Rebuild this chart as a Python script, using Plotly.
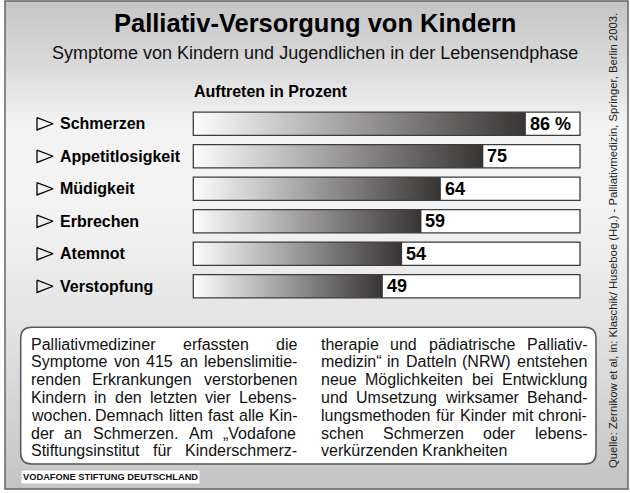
import plotly.graph_objects as go

W, H = 630, 493

# ---------------- data ----------------
categories = ["Schmerzen", "Appetitlosigkeit", "Müdigkeit", "Erbrechen", "Atemnot", "Verstopfung"]
values = [86, 75, 64, 59, 54, 49]
value_labels = ["86 %", "75", "64", "59", "54", "49"]
axis_max = 100

title = "Palliativ-Versorgung von Kindern"
subtitle = "Symptome von Kindern und Jugendlichen in der Lebensendphase"
unit_label = "Auftreten in Prozent"
source = "Quelle: Zernikow et al, in: Klaschik/ Huseboe (Hg.) - Palliativmedizin, Springer, Berlin 2003."
logo = "VODAFONE STIFTUNG DEUTSCHLAND"

left_col = [
    "Palliativmediziner erfassten die",
    "Symptome von 415 an lebenslimitie-",
    "renden Erkrankungen verstorbenen",
    "Kindern in den letzten vier Lebens-",
    "wochen. Demnach litten fast alle Kin-",
    "der an Schmerzen. Am „Vodafone",
    "Stiftungsinstitut für Kinderschmerz-",
]
right_col = [
    "therapie und pädiatrische Palliativ-",
    "medizin“ in Datteln (NRW) entstehen",
    "neue Möglichkeiten bei Entwicklung",
    "und Umsetzung wirksamer Behand-",
    "lungsmethoden für Kinder mit chroni-",
    "schen Schmerzen oder lebens-",
    "verkürzenden Krankheiten",
]

FONT = "Liberation Sans, Arial, Helvetica, sans-serif"


def px(x):
    return x / W


def py(y):
    return 1 - y / H


fig = go.Figure()
idx = list(range(len(categories)))

# ---- white bar frames ----
fig.add_trace(go.Bar(y=idx, x=[axis_max] * len(idx), orientation="h", width=0.71,
                     marker=dict(color="white", line=dict(width=0)), hoverinfo="skip",
                     showlegend=False))

# ---- gradient bars built from segments ----
N = 90
c0 = (253, 253, 253)
c1 = (56, 52, 52)
sy, sx, sb, sc = [], [], [], []
for i, v in enumerate(values):
    step = v / N
    for k in range(N):
        b = k * step
        w = min(step * 1.8, v - b)
        t = (k + 0.5) / N
        col = tuple(int(round(c0[j] + (c1[j] - c0[j]) * t)) for j in range(3))
        sy.append(i)
        sx.append(w)
        sb.append(b)
        sc.append("rgb(%d,%d,%d)" % col)
fig.add_trace(go.Bar(y=sy, x=sx, base=sb, orientation="h", width=0.71,
                     marker=dict(color=sc, line=dict(width=0)), hoverinfo="skip",
                     showlegend=False))

# ---- outline of bar frames ----
fig.add_trace(go.Bar(y=idx, x=[axis_max] * len(idx), orientation="h", width=0.71,
                     marker=dict(color="rgba(0,0,0,0)", line=dict(width=1.3, color="#3c3c3c")),
                     hoverinfo="skip", showlegend=False))

# ---- triangle bullets (on full-width helper axis) ----
tx, ty = [], []
for i in idx:
    tx += [37.0, 53.0, 37.0, 37.0, None]
    ty += [i - 0.19, i, i + 0.19, i - 0.19, None]
fig.add_trace(go.Scatter(x=tx, y=ty, xaxis="x2", yaxis="y", mode="lines",
                         line=dict(color="black", width=1.3), hoverinfo="skip",
                         showlegend=False))

annotations = []
# category labels
for i, c in enumerate(categories):
    annotations.append(dict(x=px(60), y=i, xref="paper", yref="y", xanchor="left",
                            yanchor="middle", text="<b>%s</b>" % c, showarrow=False,
                            font=dict(family=FONT, size=16, color="black"),
                            borderpad=0, borderwidth=0))
# value labels
for i, (v, lab) in enumerate(zip(values, value_labels)):
    annotations.append(dict(x=v, y=i, xref="x", yref="y", xanchor="left", yanchor="middle",
                            xshift=4, text="<b>%s</b>" % lab, showarrow=False,
                            font=dict(family=FONT, size=18, color="black"),
                            borderpad=0, borderwidth=0))

# titles
annotations.append(dict(x=px(315), y=py(23), xref="paper", yref="paper", xanchor="center",
                        yanchor="middle", text="<b>%s</b>" % title, showarrow=False,
                        font=dict(family=FONT, size=25.5, color="black")))
annotations.append(dict(x=px(315), y=py(53), xref="paper", yref="paper", xanchor="center",
                        yanchor="middle", text=subtitle, showarrow=False,
                        font=dict(family=FONT, size=18, color="#111")))
annotations.append(dict(x=px(194), y=py(92), xref="paper", yref="paper", xanchor="left",
                        yanchor="middle", text="<b>%s</b>" % unit_label, showarrow=False,
                        font=dict(family=FONT, size=16, color="black"),
                        borderpad=0, borderwidth=0))
# source (rotated)
annotations.append(dict(x=px(613), y=py(241), xref="paper", yref="paper", xanchor="center",
                        yanchor="middle", text=source, textangle=-90, showarrow=False,
                        font=dict(family=FONT, size=11.3, color="#222")))
# logo
annotations.append(dict(x=px(20.5), y=py(476.5), xref="paper", yref="paper", xanchor="left",
                        yanchor="middle", text="<b>%s</b>" % logo, showarrow=False,
                        bgcolor="white", borderpad=1,
                        font=dict(family=FONT, size=9.3, color="#111")))

# ---- justified paragraph text ----
AW = {" ": 278, ".": 278, ",": 278, "-": 333, "(": 333, ")": 333, ":": 278, "/": 278,
      "„": 333, "“": 333, "%": 889}
for ch in "0123456789":
    AW[ch] = 556
upper = dict(A=667, B=667, C=722, D=722, E=667, F=611, G=778, H=722, I=278, J=500, K=667,
             L=556, M=833, N=722, O=778, P=667, Q=778, R=722, S=667, T=611, U=722, V=667,
             W=944, X=667, Y=667, Z=611)
lower = dict(a=556, b=556, c=500, d=556, e=556, f=278, g=556, h=556, i=222, j=222, k=500,
             l=222, m=833, n=556, o=556, p=556, q=556, r=333, s=500, t=278, u=556, v=500,
             w=722, x=500, y=500, z=500)
AW.update(upper)
AW.update(lower)
AW.update({"ä": 556, "ö": 556, "ü": 556, "Ö": 778, "Ü": 722, "Ä": 667, "ß": 611})

TS = 16


def tw(s):
    return sum(AW.get(ch, 556) for ch in s) * TS / 1000.0


def add_column(lines, xl, xr, last_left):
    colw = xr - xl
    for k, line in enumerate(lines):
        yc = 344 + 17.8 * k
        words = line.split(" ")
        ws = [tw(w) for w in words]
        justify = not (last_left and k == len(lines) - 1) and len(words) > 1
        gap = (colw - sum(ws)) / (len(words) - 1) if justify else tw(" ")
        x = xl
        for w, wd in zip(words, ws):
            annotations.append(dict(x=px(x), y=py(yc), xref="paper", yref="paper",
                                    xanchor="left", yanchor="middle", text=w,
                                    showarrow=False, borderpad=0, borderwidth=0,
                                    font=dict(family=FONT, size=TS, color="#111")))
            x += wd + gap


add_column(left_col, 30.7, 297.3, False)
add_column(right_col, 320.7, 587.3, True)

# ---- background shapes ----
shapes = []
stops = [(0, 196), (60, 216), (125, 243), (210, 243), (330, 226), (489, 196)]
NB = 70
for b in range(NB):
    y0 = 1 + (489 - 1) * b / NB
    y1 = 1 + (489 - 1) * (b + 1) / NB
    ym = (y0 + y1) / 2
    for (a, ga), (bb, gb) in zip(stops[:-1], stops[1:]):
        if a <= ym <= bb:
            g = ga + (gb - ga) * (ym - a) / (bb - a)
            break
    g = int(round(g))
    shapes.append(dict(type="rect", xref="paper", yref="paper", x0=px(5), x1=px(628),
                       y0=py(y0 - 0.3), y1=py(y1 + 0.3), layer="below",
                       fillcolor="rgb(%d,%d,%d)" % (g, g, g), line=dict(width=0)))
# outer frame
shapes.append(dict(type="rect", xref="paper", yref="paper", x0=px(5), x1=px(628),
                   y0=py(1), y1=py(489), layer="below", fillcolor="rgba(0,0,0,0)",
                   line=dict(color="#666666", width=1.5)))
# rounded text box
bx0, bx1, by0, by1, r = 20.7, 596, 327.3, 464, 11


def P(x, y):
    return "%.5f,%.5f" % (px(x), py(y))


path = ("M " + P(bx0 + r, by0) + " L " + P(bx1 - r, by0) + " Q " + P(bx1, by0) + " " + P(bx1, by0 + r) +
        " L " + P(bx1, by1 - r) + " Q " + P(bx1, by1) + " " + P(bx1 - r, by1) +
        " L " + P(bx0 + r, by1) + " Q " + P(bx0, by1) + " " + P(bx0, by1 - r) +
        " L " + P(bx0, by0 + r) + " Q " + P(bx0, by0) + " " + P(bx0 + r, by0) + " Z")
shapes.append(dict(type="path", xref="paper", yref="paper", path=path, layer="below",
                   fillcolor="white", line=dict(color="#555555", width=1.5)))

unit = (580 - 193.3) / axis_max
fig.update_layout(
    width=W, height=H,
    margin=dict(l=0, r=0, t=0, b=0),
    paper_bgcolor="white",
    plot_bgcolor="rgba(0,0,0,0)",
    barmode="overlay",
    showlegend=False,
    xaxis=dict(domain=[px(193.3 - 0.6 * unit), px(580 + 0.6 * unit)], range=[-0.6, axis_max + 0.6],
               visible=False, fixedrange=True),
    xaxis2=dict(domain=[0, 1], range=[0, W], visible=False, anchor="y", fixedrange=True),
    yaxis=dict(domain=[py(302.5), py(107.5)], range=[len(categories) - 0.5, -0.5],
               visible=False, fixedrange=True),
    annotations=annotations,
    shapes=shapes,
)

fig.write_html("out.html", config={"displayModeBar": False},
               post_script="document.body.style.margin='0';document.body.style.overflow='hidden';")
